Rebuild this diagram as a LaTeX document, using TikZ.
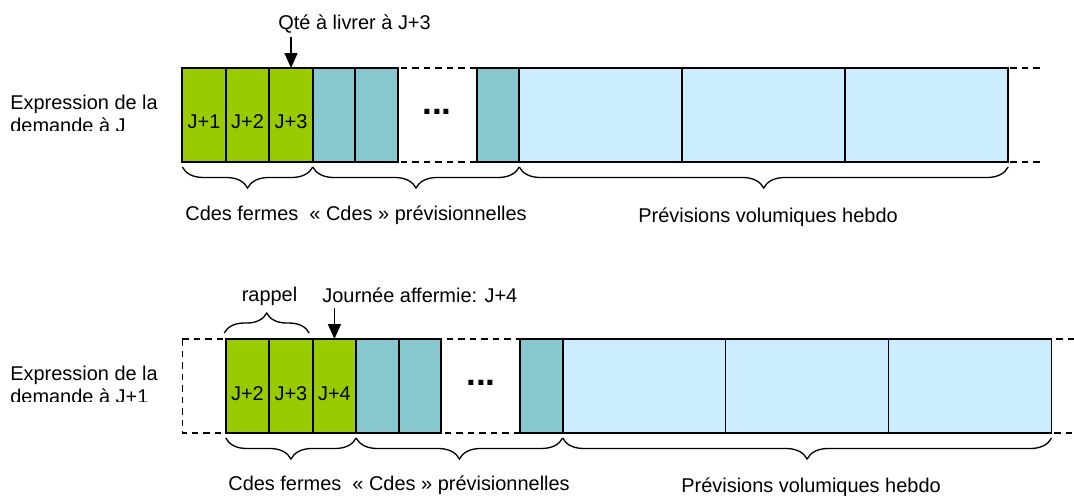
\documentclass[tikz,border=0pt]{standalone}
\usepackage{fontspec}
\setmainfont{Liberation Sans}
\usetikzlibrary{arrows.meta,positioning,decorations.pathreplacing}
\definecolor{ferme}{HTML}{99CC00}
\definecolor{prev}{HTML}{86C8CE}
\definecolor{hebdo}{HTML}{CCECFF}

\begin{document}
\begin{tikzpicture}[x=0.02cm,y=-0.02cm,>={Triangle[length=0.3cm,width=0.26cm]},
  font=\fontsize{11.35}{13.6}\selectfont,
  cell/.style={draw,line width=1pt,inner sep=0pt,outer sep=0pt,minimum height=1.88cm},
  fcell/.style={cell,fill=ferme,minimum width=0.87cm,text height=0.52cm,text depth=0pt},
  pcell/.style={cell,fill=prev,minimum width=0.85cm},
  hcell/.style={cell,fill=hebdo,minimum width=3.26cm},
  dashline/.style={line width=0.7pt,dash pattern=on 0.13cm off 0.1cm},
  over/.style={decorate,decoration={brace,amplitude=0.4cm},line width=0.75pt},
  under/.style={decorate,decoration={brace,mirror,amplitude=0.42cm},line width=0.75pt},
  lab/.style={anchor=base west,inner sep=0pt},
  pts/.style={font=\fontsize{20}{20}\bfseries\selectfont,inner sep=0pt}]
\useasboundingbox (0,0) rectangle (1074,495);

\node[fcell] (g11) at (204.05,115) {J+1};
\node[fcell,right=0pt of g11] (g12) {J+2};
\node[fcell,right=0pt of g12] (g13) {J+3};
\node[pcell,right=0pt of g13] (t11) {};
\node[pcell,right=0pt of t11] (t12) {};
\node[pcell,right=1.58cm of t12] (t13) {};
\node[hcell,right=0pt of t13] (v11) {};
\node[hcell,right=0pt of v11] (v12) {};
\node[hcell,right=0pt of v12] (v13) {};
\node[pts] (pts1) at (437,112) {...};
\draw[dashline] (g11.north west) -- ++(860,0);
\draw[dashline] (g11.south west) -- ++(860,0);

\node[lab] (qte) at (278,29) {Qté à livrer à J+3};
\draw[->,line width=0.85pt] ([yshift=0.62cm]g13.north) -- (g13.north);
\draw[under] ([yshift=-0.1cm]g11.south west) -- ([yshift=-0.1cm]g13.south east);
\draw[under] ([yshift=-0.1cm]t11.south west) -- ([yshift=-0.1cm]t13.south east);
\draw[under] ([yshift=-0.1cm]v11.south west) -- ([yshift=-0.1cm]v13.south east);
\node[lab] (cf1) at (185,220) {Cdes fermes\ \ « Cdes » prévisionnelles};
\node[lab] (pv1) at (638,222) {Prévisions volumiques hebdo};
\begin{scope}
\clip (0,90) rectangle (180,130);
\node[lab] (ex1) at (10,109) {Expression de la};
\node[lab] (ex1b) at (10,132) {demande à J};
\end{scope}

\node[fcell,text height=0.58cm] (g21) at (247.45,386) {J+2};
\node[fcell,text height=0.58cm,right=0pt of g21] (g22) {J+3};
\node[fcell,text height=0.58cm,right=0pt of g22] (g23) {J+4};
\node[pcell,right=0pt of g23] (t21) {};
\node[pcell,right=0pt of t21] (t22) {};
\node[pcell,right=1.58cm of t22] (t23) {};
\node[hcell,right=0pt of t23] (v21) {};
\node[hcell,right=0pt of v21] (v22) {};
\node[hcell,right=0pt of v22] (v23) {};
\node[pts] (pts2) at (481,383) {...};
\draw[dashline] (182.3,339) -- (1074,339);
\draw[dashline] (182.3,339) -- (182.3,433) -- (1074,433);

\node[anchor=base,inner sep=0pt] (rap) at (269.5,301) {rappel};
\draw[over] ([shift={(-0.03cm,0.12cm)}]g21.north west) -- ([shift={(-0.07cm,0.12cm)}]g22.north east);
\node[lab] (jaff) at (322,302) {Journée affermie: J+4};
\draw[->,line width=0.85pt] ([yshift=0.62cm]g23.north) -- (g23.north);
\draw[under] ([yshift=-0.1cm]g21.south west) -- ([yshift=-0.1cm]g23.south east);
\draw[under] ([yshift=-0.1cm]t21.south west) -- ([yshift=-0.1cm]t23.south east);
\draw[under] ([yshift=-0.1cm]v21.south west) -- ([yshift=-0.1cm]v23.south east);
\node[lab] (cf2) at (228,490) {Cdes fermes\ \ « Cdes » prévisionnelles};
\node[lab] (pv2) at (681,492) {Prévisions volumiques hebdo};
\begin{scope}
\clip (0,361) rectangle (180,401);
\node[lab] (ex2) at (10,380) {Expression de la};
\node[lab] (ex2b) at (10,403) {demande à J+1};
\end{scope}
\end{tikzpicture}
\end{document}
